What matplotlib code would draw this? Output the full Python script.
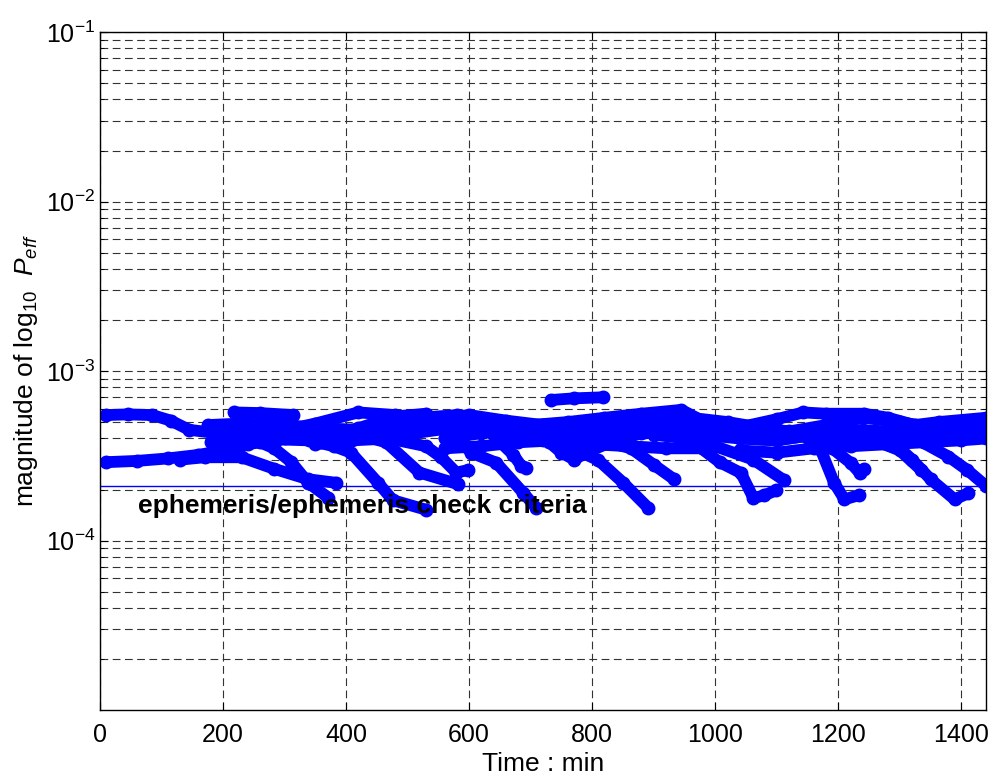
import matplotlib
matplotlib.use("Agg")
import matplotlib.pyplot as plt
from matplotlib.ticker import LogLocator, NullFormatter

plt.rcParams['font.family'] = ['Liberation Sans', 'DejaVu Sans']
plt.rcParams['mathtext.fontset'] = 'custom'
plt.rcParams['mathtext.rm'] = 'Liberation Sans'
plt.rcParams['mathtext.it'] = 'Liberation Sans:italic'
plt.rcParams['mathtext.bf'] = 'Liberation Sans:bold'

# ---- data: time (min) and P_eff (in units of 1e-4), one pair per track ----
t01 = [10, 45, 85, 115, 145, 190, 240, 290, 350, 420, 480, 540, 600, 660, 720, 760, 810, 850, 891]
p01 = [5.5, 5.55, 5.5, 5.1, 4.5, 4.3, 4.3, 4.4, 4.9, 5.7, 5.5, 5.0, 4.5, 4.2, 3.9, 3.6, 2.98, 2.2, 1.56]
t02 = [10, 60, 110, 160, 200, 240, 290, 340, 380, 408, 452, 476, 530]
p02 = [2.9, 2.95, 3.05, 3.2, 3.4, 3.7, 3.95, 3.9, 3.6, 3.3, 2.19, 1.73, 1.52]
t03 = [130, 170, 230, 283, 338, 384]
p03 = [3.0, 3.1, 3.1, 2.65, 2.3, 2.19]
t04 = [180, 229, 260, 283, 311, 338, 371]
p04 = [3.8, 4.05, 3.8, 3.5, 2.9, 2.2, 1.79]
t05 = [218, 260, 314]
p05 = [5.7, 5.65, 5.5]
t06 = [733, 770, 818]
p06 = [6.75, 6.9, 7.0]
t07 = [175, 230, 300, 360, 420, 480, 540, 600, 660, 720, 780, 840, 900, 960, 1020, 1080, 1140, 1172, 1193, 1210, 1233]
p07 = [4.8, 4.9, 4.8, 4.6, 4.5, 4.7, 5.2, 5.5, 5.1, 4.8, 4.6, 4.7, 5.0, 5.3, 5.0, 4.6, 4.3, 3.4, 2.2, 1.75, 1.85]
t08 = [240, 300, 360, 420, 465, 519, 582]
p08 = [4.2, 4.6, 4.4, 4.2, 3.8, 2.52, 2.15]
t09 = [300, 360, 420, 480, 530, 570, 603, 644, 688, 709]
p09 = [4.0, 4.1, 4.6, 5.4, 5.6, 4.5, 3.3, 2.88, 1.91, 1.56]
t10 = [350, 410, 470, 530, 555, 579, 598]
p10 = [3.7, 3.9, 4.0, 3.6, 3.09, 2.52, 2.6]
t11 = [400, 460, 520, 580, 630, 672, 685, 693]
p11 = [4.1, 4.7, 5.3, 5.5, 4.5, 3.2, 2.75, 2.69]
t12 = [450, 510, 570, 630, 690, 730, 750, 771, 790, 830, 880, 940, 990, 1040, 1100, 1160, 1200,
       1260, 1300, 1320, 1350, 1389, 1411]
p12 = [4.4, 4.3, 4.6, 5.0, 4.8, 3.8, 3.3, 3.0, 3.3, 3.8, 4.3, 4.7, 4.4, 4.0, 3.9, 4.2, 4.0,
       3.9, 3.5, 3.0, 2.3, 1.75, 1.9]
t13 = [560, 620, 680, 740, 800, 863, 900, 933]
p13 = [4.0, 4.3, 4.6, 4.4, 4.0, 3.5, 2.8, 2.3]
t14 = [640, 700, 760, 820, 880, 945, 990, 1045, 1100, 1143, 1180, 1242, 1281, 1324, 1363, 1440]
p14 = [4.4, 4.8, 5.0, 5.3, 5.6, 5.9, 4.85, 4.7, 5.2, 5.7, 5.6, 5.6, 5.3, 4.8, 5.0, 5.3]
t15 = [700, 760, 820, 880, 940, 1000, 1060, 1120, 1180, 1240, 1300, 1360, 1440]
p15 = [4.6, 4.4, 4.4, 4.7, 5.0, 4.9, 4.5, 4.4, 4.8, 5.3, 5.0, 4.6, 4.7]
t16 = [800, 860, 920, 980, 1040, 1100, 1160, 1220, 1280, 1340, 1400, 1440]
p16 = [4.0, 4.2, 4.4, 4.2, 4.0, 3.9, 4.2, 4.5, 4.4, 4.1, 4.2, 4.4]
t17 = [900, 960, 1000, 1062, 1111]
p17 = [4.2, 4.0, 3.6, 3.0, 2.28]
t18 = [900, 960, 1007, 1042, 1062, 1080, 1099]
p18 = [4.4, 3.9, 2.9, 2.5, 1.78, 1.85, 1.98]
t19 = [1150, 1190, 1221, 1235, 1242]
p19 = [4.0, 3.5, 2.85, 2.5, 2.65]
t20 = [1250, 1300, 1335]
p20 = [4.0, 3.4, 2.6]
t21 = [1260, 1320, 1379, 1410, 1440]
p21 = [4.4, 4.1, 3.13, 2.6, 2.1]
t22 = [1040, 1100, 1160, 1220, 1280, 1340, 1400, 1440]
p22 = [3.4, 3.3, 3.5, 3.6, 3.7, 3.8, 3.9, 4.0]
t23 = [560, 620, 680, 740, 800, 860, 920, 980]
p23 = [3.5, 3.6, 3.8, 3.9, 3.7, 3.6, 3.5, 3.5]

criteria = 2.1e-4
xticks = [0, 200, 400, 600, 800, 1000, 1200, 1400]
yticks = [1e-4, 1e-3, 1e-2, 1e-1]
ytick_labels = ['$10^{-4}$', '$10^{-3}$', '$10^{-2}$', '$10^{-1}$']

tracks = [(t01, p01), (t02, p02), (t03, p03), (t04, p04), (t05, p05), (t06, p06),
          (t07, p07), (t08, p08), (t09, p09), (t10, p10), (t11, p11), (t12, p12),
          (t13, p13), (t14, p14), (t15, p15), (t16, p16), (t17, p17), (t18, p18),
          (t19, p19), (t20, p20), (t21, p21), (t22, p22), (t23, p23)]

fig = plt.figure(figsize=(9.92, 7.76), dpi=100)
ax = fig.add_axes([0.1008, 0.085, 0.8931, 0.8737])

for t, p in tracks:
    ax.plot(t, [v * 1e-4 for v in p], color='#0000ff', lw=8.5,
            solid_capstyle='round', solid_joinstyle='round',
            marker='o', ms=9, mec='#0000ff', mfc='#0000ff')

ax.axhline(criteria, color='#0000ff', lw=1)
ax.text(62, 1.6e-4, 'ephemeris/ephemeris check criteria', fontsize=19,
        fontweight='bold', va='center', ha='left')

ax.set_yscale('log')
ax.set_xlim(0, 1440)
ax.set_ylim(1.0e-5, 1e-1)
ax.set_xticks(xticks)
ax.set_yticks(yticks)
ax.set_yticklabels(ytick_labels)
ax.yaxis.set_minor_locator(LogLocator(base=10, subs=range(2, 10)))
ax.yaxis.set_minor_formatter(NullFormatter())

ax.grid(True, which='major', axis='both', color='0.2', ls=(0, (7, 4)), lw=0.8)
ax.grid(True, which='minor', axis='y', color='0.2', ls=(0, (7, 4)), lw=0.8)
ax.tick_params(which='both', direction='in', top=True, right=True, labelsize=18)
ax.tick_params(axis='x', pad=9)
ax.tick_params(which='major', length=6)
ax.tick_params(which='minor', length=3)
for s in ax.spines.values():
    s.set_linewidth(1.0)

ax.set_xlabel('Time : min', fontsize=19, labelpad=4)
ax.set_ylabel(r'magnitude of log$_{10}$  $\mathit{P}_{\mathit{eff}}$', fontsize=19, labelpad=4)

fig.savefig('out.png', dpi=100)
